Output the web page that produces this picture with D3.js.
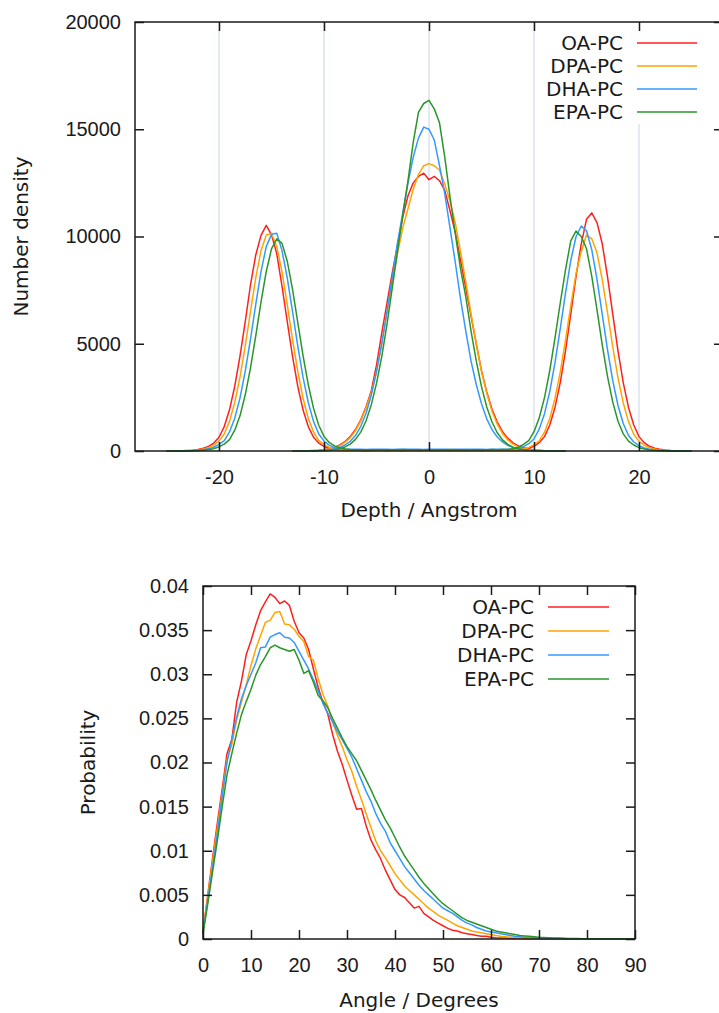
<!DOCTYPE html>
<html>
<head>
<meta charset="utf-8">
<script src="https://cdn.jsdelivr.net/npm/d3@7"></script>
<style>
  body { margin: 0; background: #fff; }
  svg { display: block; font-family: "DejaVu Sans", sans-serif; }
  text { fill: #1a1a1a; font-size: 20px; }
  .tick line { stroke-width: 1.5; }
</style>
</head>
<body>
<svg id="chart" width="719" height="1013"></svg>
<script>
// legend entries, shared by both panels
var seriesNames = ['OA-PC', 'DPA-PC', 'DHA-PC', 'EPA-PC'];

// ---- top panel: number density vs depth ----
var depthTicks = [-20, -10, 0, 10, 20];
var densityTicks = [0, 5000, 10000, 15000, 20000];

var depth = [
  -25, -24.5, -24, -23.5, -23, -22.5, -22, -21.5, -21, -20.5,
  -20, -19.5, -19, -18.5, -18, -17.5, -17, -16.5, -16, -15.5,
  -15, -14.5, -14, -13.5, -13, -12.5, -12, -11.5, -11, -10.5,
  -10, -9.5, -9, -8.5, -8, -7.5, -7, -6.5, -6, -5.5,
  -5, -4.5, -4, -3.5, -3, -2.5, -2, -1.5, -1, -0.5,
  0, 0.5, 1, 1.5, 2, 2.5, 3, 3.5, 4, 4.5,
  5, 5.5, 6, 6.5, 7, 7.5, 8, 8.5, 9, 9.5,
  10, 10.5, 11, 11.5, 12, 12.5, 13, 13.5, 14, 14.5,
  15, 15.5, 16, 16.5, 17, 17.5, 18, 18.5, 19, 19.5,
  20, 20.5, 21, 21.5, 22, 22.5, 23, 23.5, 24, 24.5,
  25
];

// head-group density (outer peaks)
var headOA = [
  0, 5, 8, 15, 25, 40, 75, 125, 210, 370,
  640, 1140, 1920, 3020, 4420, 6030, 7750, 9140, 10050, 10520,
  10080, 9200, 7690, 6030, 4420, 3020, 1920, 1140, 640, 370,
  210, 125, 75, 45, 35, 30, 30, 25, 30, 25,
  30, 30, 25, 30, 30, 25, 30, 30, 25, 30,
  30, 25, 30, 30, 25, 30, 30, 25, 30, 30,
  25, 30, 30, 30, 35, 30, 35, 45, 80, 130,
  220, 390, 670, 1210, 2030, 3190, 4670, 6380, 8130, 9660,
  10800, 11100, 10650, 9660, 8130, 6380, 4670, 3190, 2030, 1210,
  670, 390, 220, 130, 80, 45, 25, 15, 7, 3,
  0
];
var headDPA = [
  0, 2, 4, 8, 16, 30, 50, 90, 155, 275,
  460, 790, 1380, 2260, 3440, 4900, 6510, 8070, 9340, 10070,
  10140, 9530, 8360, 6840, 5220, 3720, 2470, 1530, 890, 480,
  310, 175, 100, 60, 45, 40, 40, 35, 40, 40,
  35, 40, 40, 45, 40, 35, 40, 40, 45, 40,
  40, 35, 40, 45, 40, 40, 35, 40, 40, 45,
  40, 40, 35, 40, 45, 45, 50, 55, 95, 170,
  300, 470, 880, 1520, 2450, 3680, 5170, 6770, 8270, 9300,
  10070, 9900, 9240, 7990, 6450, 4850, 3410, 2240, 1370, 780,
  450, 270, 150, 90, 50, 30, 16, 8, 4, 2,
  0
];
var headDHA = [
  0, 0, 2, 4, 9, 18, 35, 60, 100, 175,
  310, 480, 890, 1530, 2470, 3720, 5220, 6840, 8360, 9530,
  10100, 10150, 9340, 8070, 6510, 4900, 3440, 2260, 1380, 790,
  460, 275, 155, 100, 85, 80, 85, 80, 75, 80,
  85, 80, 80, 75, 85, 80, 80, 85, 80, 75,
  80, 85, 80, 80, 75, 80, 85, 80, 80, 85,
  80, 75, 80, 85, 80, 85, 90, 115, 200, 340,
  560, 1020, 1740, 2770, 4120, 5700, 7360, 8880, 9990, 10490,
  10270, 9390, 8000, 6370, 4730, 3280, 2120, 1280, 720, 420,
  250, 140, 85, 47, 26, 15, 7, 3, 0, 0,
  0
];
var headEPA = [
  0, 0, 0, 3, 6, 12, 22, 40, 65, 110,
  190, 320, 530, 970, 1640, 2620, 3880, 5370, 6940, 8370,
  9420, 9890, 9680, 8850, 7550, 6000, 4460, 3090, 2000, 1200,
  680, 400, 240, 150, 90, 65, 60, 55, 60, 60,
  55, 60, 60, 55, 60, 65, 60, 55, 60, 60,
  60, 55, 60, 60, 65, 60, 55, 60, 60, 55,
  60, 60, 65, 60, 70, 75, 100, 175, 310, 480,
  900, 1550, 2490, 3750, 5270, 6900, 8440, 9800, 10250, 10000,
  9430, 8150, 6580, 4950, 3480, 2280, 1390, 800, 460, 280,
  155, 90, 50, 30, 16, 8, 4, 2, 0, 0,
  0
];

// chain-end density (central peak)
var coreDepth = [
  -13, -12.5, -12, -11.5, -11, -10.5, -10, -9.5, -9, -8.5,
  -8, -7.5, -7, -6.5, -6, -5.5, -5, -4.5, -4, -3.5,
  -3, -2.5, -2, -1.5, -1, -0.5, 0, 0.5, 1, 1.5,
  2, 2.5, 3, 3.5, 4, 4.5, 5, 5.5, 6, 6.5,
  7, 7.5, 8, 8.5, 9, 9.5, 10, 10.5, 11, 11.5,
  12, 12.5, 13
];
var coreOA = [
  0, 0, 5, 10, 20, 35, 60, 100, 170, 280,
  440, 680, 1000, 1450, 2050, 2800, 4000, 5500, 6900, 8300,
  9600, 10900, 11900, 12500, 12800, 12950, 12650, 12800, 12600, 12150,
  11200, 10200, 8900, 7600, 6300, 5000, 3750, 2750, 1950, 1350,
  900, 600, 380, 240, 150, 90, 50, 30, 15, 8,
  5, 0, 0
];
var coreDPA = [
  0, 0, 5, 8, 15, 28, 50, 90, 150, 250,
  400, 620, 950, 1400, 2000, 2700, 3700, 5000, 6500, 7900,
  9200, 10400, 11300, 12200, 12900, 13300, 13400, 13300, 13100, 12450,
  11650, 10650, 9300, 7900, 6400, 5000, 3700, 2700, 1850, 1250,
  820, 520, 320, 190, 115, 65, 35, 20, 10, 5,
  0, 0, 0
];
var coreDHA = [
  0, 0, 0, 5, 10, 20, 35, 60, 100, 170,
  280, 450, 720, 1150, 1750, 2600, 3700, 5000, 6500, 8100,
  9700, 11100, 12500, 13700, 14600, 15100, 15000, 14500, 13300, 12000,
  10400, 8800, 7100, 5600, 4200, 3100, 2200, 1500, 1000, 650,
  420, 260, 160, 100, 60, 35, 20, 10, 5, 0,
  0, 0, 0
];
var coreEPA = [
  0, 0, 0, 0, 4, 8, 16, 32, 60, 110,
  190, 320, 540, 880, 1400, 2150, 3150, 4400, 5900, 7600,
  9300, 11000, 12600, 14400, 15800, 16200, 16350, 15950, 15300, 13700,
  11850, 10150, 8500, 7200, 5600, 4200, 3000, 2050, 1350, 850,
  520, 310, 180, 100, 55, 30, 15, 8, 4, 0,
  0, 0, 0
];

// ---- bottom panel: probability vs tilt angle ----
var angleTicks = [0, 10, 20, 30, 40, 50, 60, 70, 80, 90];
var probTicks = [0, 0.005, 0.01, 0.015, 0.02, 0.025, 0.03, 0.035, 0.04];

var angle = [
  0, 1, 2, 3, 4, 5, 6, 7, 8, 9,
  10, 11, 12, 13, 14, 15, 16, 17, 18, 19,
  20, 21, 22, 23, 24, 25, 26, 27, 28, 29,
  30, 31, 32, 33, 34, 35, 36, 37, 38, 39,
  40, 41, 42, 43, 44, 45, 46, 47, 48, 49,
  50, 51, 52, 53, 54, 55, 56, 57, 58, 59,
  60, 61, 62, 63, 64, 65, 66, 67, 68, 69,
  70, 71, 72, 73, 74, 75, 76, 77, 78, 79,
  80, 81, 82, 83, 84, 85, 86, 87, 88, 89,
  90
];
var probOA = [
  .0008, .0050, .0092, .0132, .0170, .0210, .0226, .0268, .0292, .0322,
  .0338, .0356, .0372, .0382, .0391, .0387, .0380, .0383, .0378, .0360,
  .0347, .0341, .0328, .0306, .0285, .0268, .0255, .0232, .0213, .0198,
  .0180, .0163, .0147, .0148, .0128, .0112, .0101, .0091, .0078, .0067,
  .0056, .0050, .0047, .0041, .0035, .0037, .0029, .0025, .0021, .0018,
  .0015, .0012, .0010, .0009, .0007, .0006, .0005, .0004, .0003, .0003,
  .0002, .00015, .00012, .0001, .00008, .00006, .00005, .00004, .00003, .00002,
  .00002, .00001, .00001, .00001, .00001, .00001, .00001, .00001, .00001, .00001,
  .00001, .00001, .00001, .00001, .00001, .00001, .00001, .00001, .00001, .00001,
  .00001
];
var probDPA = [
  .0008, .0048, .0088, .0126, .0165, .0203, .0220, .0248, .0268, .0288,
  .0310, .0329, .0344, .0359, .0361, .0370, .0371, .0357, .0356, .0351,
  .0343, .0337, .0320, .0316, .0295, .0277, .0264, .0246, .0231, .0218,
  .0203, .0190, .0173, .0158, .0142, .0126, .0111, .0100, .0092, .0083,
  .0074, .0067, .0060, .0055, .0050, .0045, .0040, .0035, .0031, .0027,
  .0024, .0021, .0018, .0015, .0013, .0011, .0009, .0008, .0007, .0006,
  .0005, .0004, .0003, .00025, .0002, .00015, .0001, .0001, .00008, .00006,
  .00005, .00004, .00003, .00003, .00002, .00002, .00001, .00001, .00001, .00001,
  .00001, .00001, .00001, .00001, .00001, .00001, .00001, .00001, .00001, .00001,
  .00001
];
var probDHA = [
  .0006, .0044, .0082, .0120, .0162, .0200, .0226, .0251, .0272, .0287,
  .0300, .0313, .0330, .0331, .0342, .0345, .0347, .0342, .0341, .0336,
  .0326, .0316, .0306, .0294, .0281, .0267, .0256, .0246, .0235, .0226,
  .0216, .0206, .0193, .0180, .0167, .0156, .0142, .0131, .0122, .0109,
  .0100, .0091, .0082, .0075, .0068, .0061, .0055, .0050, .0045, .0040,
  .0035, .0032, .0029, .0025, .0021, .0018, .0016, .0013, .0011, .0009,
  .0008, .0007, .0006, .0005, .0004, .0003, .00025, .0002, .00017, .00014,
  .00012, .0001, .00008, .00007, .00006, .00005, .00004, .00003, .00003, .00002,
  .00002, .00002, .00002, .00002, .00002, .00002, .00002, .00002, .00002, .00002,
  .00002
];
var probEPA = [
  .0006, .0040, .0076, .0112, .0150, .0186, .0210, .0233, .0254, .0269,
  .0283, .0299, .0311, .0320, .0330, .0333, .0330, .0328, .0326, .0328,
  .0316, .0301, .0304, .0291, .0276, .0270, .0262, .0250, .0239, .0228,
  .0218, .0210, .0202, .0191, .0180, .0169, .0157, .0146, .0135, .0126,
  .0115, .0104, .0094, .0086, .0078, .0070, .0063, .0057, .0051, .0045,
  .0040, .0036, .0032, .0028, .0024, .0021, .0019, .0017, .0015, .0013,
  .0011, .0009, .0008, .0007, .0006, .0005, .0004, .00035, .0003, .00025,
  .0002, .00018, .00015, .00012, .0001, .00008, .00007, .00006, .00005, .00004,
  .00003, .00003, .00003, .00003, .00003, .00002, .00002, .00002, .00002, .00002,
  .00002
];

var colors = ['#ff1f1f', '#ffa500', '#3399ff', '#2a962a'];
var ink = '#1a1a1a';
var svg = d3.select('#chart');

function drawPanel(dim) {
    var x = d3.scaleLinear().domain(dim.xDomain).range([dim.left, dim.right]);
    var y = d3.scaleLinear().domain(dim.yDomain).range([dim.bottom, dim.top]);
    var g = svg.append('g');

    if (dim.grid) {
        g.append('g').selectAll('line')
            .data(dim.xTicks)
            .join('line')
            .attr('x1', x).attr('x2', x)
            .attr('y1', dim.top).attr('y2', dim.bottom)
            .attr('stroke', '#c7d4e7')
            .attr('stroke-width', 1);
    }

    // legend (opaque box in the top panel)
    var leg = dim.legend;
    if (leg.box) {
        g.append('rect')
            .attr('x', leg.box[0]).attr('y', leg.box[1])
            .attr('width', leg.box[2]).attr('height', leg.box[3])
            .attr('fill', '#fff');
    }
    seriesNames.forEach(function(name, i) {
        var cy = leg.y + i * leg.step;
        g.append('text')
            .attr('x', leg.x).attr('y', cy)
            .attr('dy', '0.36em')
            .attr('text-anchor', 'end')
            .text(name);
        g.append('line')
            .attr('x1', leg.x1).attr('x2', leg.x2)
            .attr('y1', cy).attr('y2', cy)
            .attr('stroke', colors[i])
            .attr('stroke-width', 1.5);
    });

    var line = d3.line()
        .x(function(d) { return x(d[0]); })
        .y(function(d) { return y(d[1]); });

    dim.series.forEach(function(s) {
        s.sets.forEach(function(set) {
            g.append('path')
                .attr('d', line(d3.zip(set[0], set[1])))
                .attr('fill', 'none')
                .attr('stroke', s.color)
                .attr('stroke-width', 1.5)
                .attr('stroke-linejoin', 'round');
        });
    });

    // ticks point inward on all four sides
    g.append('g')
        .attr('transform', 'translate(0,' + dim.bottom + ')')
        .attr('color', ink)
        .call(d3.axisBottom(x).tickValues(dim.xTicks).tickSize(-9).tickSizeOuter(0)
            .tickPadding(19).tickFormat(function(d) { return String(d); }))
        .call(function(a) { a.select('.domain').remove(); });
    g.append('g')
        .attr('transform', 'translate(0,' + dim.top + ')')
        .attr('color', ink)
        .call(d3.axisTop(x).tickValues(dim.xTicks).tickSize(-9).tickSizeOuter(0).tickFormat(''))
        .call(function(a) { a.select('.domain').remove(); });
    g.append('g')
        .attr('transform', 'translate(' + dim.left + ',0)')
        .attr('color', ink)
        .call(d3.axisLeft(y).tickValues(dim.yTicks).tickSize(-9).tickSizeOuter(0)
            .tickPadding(14).tickFormat(function(d) { return String(d); }))
        .call(function(a) { a.select('.domain').remove(); });
    g.append('g')
        .attr('transform', 'translate(' + dim.right + ',0)')
        .attr('color', ink)
        .call(d3.axisRight(y).tickValues(dim.yTicks).tickSize(-9).tickSizeOuter(0).tickFormat(''))
        .call(function(a) { a.select('.domain').remove(); });

    g.append('rect')
        .attr('x', dim.left).attr('y', dim.top)
        .attr('width', dim.right - dim.left)
        .attr('height', dim.bottom - dim.top)
        .attr('fill', 'none')
        .attr('stroke', ink)
        .attr('stroke-width', 1.5);

    g.append('text')
        .attr('x', (dim.left + dim.right) / 2)
        .attr('y', dim.xLabelY)
        .attr('dy', '0.36em')
        .attr('text-anchor', 'middle')
        .text(dim.xLabel);
    g.append('text')
        .attr('transform', 'translate(' + dim.yLabelX + ',' + (dim.top + dim.bottom) / 2 + ') rotate(-90)')
        .attr('dy', '0.36em')
        .attr('text-anchor', 'middle')
        .text(dim.yLabel);
}

drawPanel({
    left: 135, right: 723, top: 22, bottom: 451,
    xDomain: [-28, 28], yDomain: [0, 20000],
    xTicks: depthTicks, yTicks: densityTicks,
    grid: true,
    xLabel: 'Depth / Angstrom', xLabelY: 510,
    yLabel: 'Number density', yLabelX: 21,
    legend: { x: 623, y: 43, step: 23, x1: 637, x2: 697, box: [546, 23, 173, 101] },
    series: [
        { color: colors[0], sets: [[depth, headOA], [coreDepth, coreOA]] },
        { color: colors[1], sets: [[depth, headDPA], [coreDepth, coreDPA]] },
        { color: colors[2], sets: [[depth, headDHA], [coreDepth, coreDHA]] },
        { color: colors[3], sets: [[depth, headEPA], [coreDepth, coreEPA]] }
    ]
});

drawPanel({
    left: 203, right: 635, top: 586, bottom: 939,
    xDomain: [0, 90], yDomain: [0, 0.04],
    xTicks: angleTicks, yTicks: probTicks,
    grid: false,
    xLabel: 'Angle / Degrees', xLabelY: 1000,
    yLabel: 'Probability', yLabelX: 88,
    legend: { x: 534, y: 607, step: 24, x1: 548, x2: 609, box: null },
    series: [
        { color: colors[0], sets: [[angle, probOA]] },
        { color: colors[1], sets: [[angle, probDPA]] },
        { color: colors[2], sets: [[angle, probDHA]] },
        { color: colors[3], sets: [[angle, probEPA]] }
    ]
});
</script>
</body>
</html>
